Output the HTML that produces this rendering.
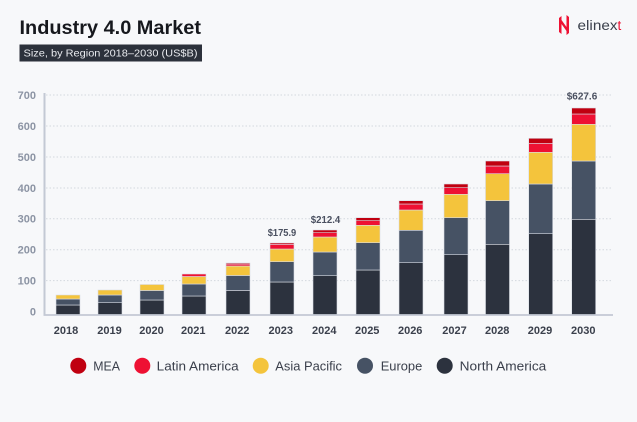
<!DOCTYPE html>
<html>
<head>
<meta charset="utf-8">
<style>
html,body{margin:0;padding:0;background:#f7f8fa;}
svg{display:block;}
text{font-family:"Liberation Sans",Arial,sans-serif;}
</style>
</head>
<body>
<svg width="637" height="422" viewBox="0 0 637 422" xmlns="http://www.w3.org/2000/svg">
<rect x="0" y="0" width="637" height="422" fill="#f7f8fa"/>

<!-- Title -->
<text x="19.5" y="34" font-size="19" font-weight="bold" fill="#16181d" textLength="181.5" lengthAdjust="spacingAndGlyphs">Industry 4.0 Market</text>
<rect x="19.5" y="44.5" width="182.5" height="17" fill="#2c313b"/>
<text x="23.5" y="56.7" font-size="10.5" fill="#e9ebef" textLength="174" lengthAdjust="spacingAndGlyphs">Size, by Region 2018–2030 (US$B)</text>

<!-- Logo -->
<g fill="#ee1133">
<polygon points="559,18 561.5,16 561.5,34 559,32"/>
<polygon points="566.5,15 569,17 569,33 566.5,35"/>
<polygon points="561.5,20 566.5,27 566.5,31 561.5,24"/>
</g>
<text x="577.5" y="30" font-size="13.5" fill="#3a3f4b" textLength="40" lengthAdjust="spacingAndGlyphs">elinex</text>
<text x="617.5" y="30" font-size="13.5" fill="#ee1133">t</text>

<!-- Gridlines -->
<g stroke="#d3d7de" stroke-width="1" stroke-dasharray="1.5,2">
<line x1="46" y1="95" x2="612" y2="95"/>
<line x1="46" y1="126" x2="612" y2="126"/>
<line x1="46" y1="157" x2="612" y2="157"/>
<line x1="46" y1="188" x2="612" y2="188"/>
<line x1="46" y1="218.7" x2="612" y2="218.7"/>
<line x1="46" y1="249.7" x2="612" y2="249.7"/>
<line x1="46" y1="280.6" x2="612" y2="280.6"/>
</g>

<!-- Y labels -->
<g font-size="11" font-weight="bold" fill="#8c94a4" text-anchor="end">
<text x="36" y="99">700</text>
<text x="36" y="130">600</text>
<text x="36" y="161">500</text>
<text x="36" y="192">400</text>
<text x="36" y="222.7">300</text>
<text x="36" y="253.7">200</text>
<text x="36" y="284.6">100</text>
<text x="36" y="315.6">0</text>
</g>

<!-- Bars -->
<g stroke="#d9dde4" stroke-width="0.6">
<!-- 2018 -->
<rect x="56" y="305" width="24" height="10" fill="#2c323e"/>
<rect x="56" y="299" width="24" height="6" fill="#465264"/>
<rect x="56" y="295" width="24" height="4" fill="#f4c43c"/>
<!-- 2019 -->
<rect x="98" y="302.7" width="24" height="12.3" fill="#2c323e"/>
<rect x="98" y="295" width="24" height="7.7" fill="#465264"/>
<rect x="98" y="290" width="24" height="5" fill="#f4c43c"/>
<!-- 2020 -->
<rect x="140" y="300" width="24" height="15" fill="#2c323e"/>
<rect x="140" y="290.5" width="24" height="9.5" fill="#465264"/>
<rect x="140" y="284.5" width="24" height="6" fill="#f4c43c"/>
<!-- 2021 -->
<rect x="182" y="296" width="24" height="19" fill="#2c323e"/>
<rect x="182" y="284" width="24" height="12" fill="#465264"/>
<rect x="182" y="276.5" width="24" height="7.5" fill="#f4c43c"/>
<rect x="182" y="274" width="24" height="2.5" fill="#ee1133"/>
<!-- 2022 -->
<rect x="226" y="290.5" width="24" height="24.5" fill="#2c323e"/>
<rect x="226" y="275.5" width="24" height="15" fill="#465264"/>
<rect x="226" y="266" width="24" height="9.5" fill="#f4c43c"/>
<rect x="226" y="264" width="24" height="2" fill="#ee1133"/>
<rect x="226" y="263" width="24" height="1" fill="#c00010"/>
<!-- 2023 -->
<rect x="270" y="282" width="24" height="33" fill="#2c323e"/>
<rect x="270" y="261.7" width="24" height="20.3" fill="#465264"/>
<rect x="270" y="249" width="24" height="12.7" fill="#f4c43c"/>
<rect x="270" y="244.3" width="24" height="4.7" fill="#ee1133"/>
<rect x="270" y="243" width="24" height="1.3" fill="#c00010"/>
<!-- 2024 -->
<rect x="313" y="275.7" width="24" height="39.3" fill="#2c323e"/>
<rect x="313" y="252" width="24" height="23.7" fill="#465264"/>
<rect x="313" y="237" width="24" height="15" fill="#f4c43c"/>
<rect x="313" y="232.7" width="24" height="4.3" fill="#ee1133"/>
<rect x="313" y="230" width="24" height="2.7" fill="#c00010"/>
<!-- 2025 -->
<rect x="356" y="270" width="24" height="45" fill="#2c323e"/>
<rect x="356" y="242.7" width="24" height="27.3" fill="#465264"/>
<rect x="356" y="225.3" width="24" height="17.4" fill="#f4c43c"/>
<rect x="356" y="220.7" width="24" height="4.6" fill="#ee1133"/>
<rect x="356" y="217.7" width="24" height="3" fill="#c00010"/>
<!-- 2026 -->
<rect x="399" y="262.7" width="24" height="52.3" fill="#2c323e"/>
<rect x="399" y="230.3" width="24" height="32.4" fill="#465264"/>
<rect x="399" y="210" width="24" height="20.3" fill="#f4c43c"/>
<rect x="399" y="204" width="24" height="6" fill="#ee1133"/>
<rect x="399" y="200.7" width="24" height="3.3" fill="#c00010"/>
<!-- 2027 -->
<rect x="444" y="254.7" width="24" height="60.3" fill="#2c323e"/>
<rect x="444" y="217.7" width="24" height="37" fill="#465264"/>
<rect x="444" y="194.3" width="24" height="23.4" fill="#f4c43c"/>
<rect x="444" y="187.7" width="24" height="6.6" fill="#ee1133"/>
<rect x="444" y="184" width="24" height="3.7" fill="#c00010"/>
<!-- 2028 -->
<rect x="485.5" y="244.3" width="24" height="70.7" fill="#2c323e"/>
<rect x="485.5" y="200.7" width="24" height="43.6" fill="#465264"/>
<rect x="485.5" y="173.7" width="24" height="27" fill="#f4c43c"/>
<rect x="485.5" y="166" width="24" height="7.7" fill="#ee1133"/>
<rect x="485.5" y="161" width="24" height="5" fill="#c00010"/>
<!-- 2029 -->
<rect x="528.7" y="233.7" width="24" height="81.3" fill="#2c323e"/>
<rect x="528.7" y="184" width="24" height="49.7" fill="#465264"/>
<rect x="528.7" y="152.3" width="24" height="31.7" fill="#f4c43c"/>
<rect x="528.7" y="143.3" width="24" height="9" fill="#ee1133"/>
<rect x="528.7" y="138.3" width="24" height="5" fill="#c00010"/>
<!-- 2030 -->
<rect x="571.7" y="219.3" width="24" height="95.7" fill="#2c323e"/>
<rect x="571.7" y="161" width="24" height="58.3" fill="#465264"/>
<rect x="571.7" y="124.3" width="24" height="36.7" fill="#f4c43c"/>
<rect x="571.7" y="114" width="24" height="10.3" fill="#ee1133"/>
<rect x="571.7" y="108" width="24" height="6" fill="#c00010"/>
</g>

<!-- Axes -->
<line x1="44.5" y1="93" x2="44.5" y2="315.5" stroke="#c3c9d4" stroke-width="2"/>
<line x1="43.5" y1="315" x2="613" y2="315" stroke="#c3c9d4" stroke-width="1.8"/>

<!-- Value labels -->
<g font-size="10.5" font-weight="bold" fill="#4a5060" text-anchor="middle">
<text x="282" y="236" textLength="28.5" lengthAdjust="spacingAndGlyphs">$175.9</text>
<text x="325.5" y="223" textLength="29.5" lengthAdjust="spacingAndGlyphs">$212.4</text>
<text x="582" y="99.5" textLength="30.5" lengthAdjust="spacingAndGlyphs">$627.6</text>
</g>

<!-- X labels -->
<g font-size="11" font-weight="bold" fill="#3b404c" text-anchor="middle">
<text x="66" y="334">2018</text>
<text x="109.5" y="334">2019</text>
<text x="151.5" y="334">2020</text>
<text x="193.3" y="334">2021</text>
<text x="237.2" y="334">2022</text>
<text x="280.8" y="334">2023</text>
<text x="324.3" y="334">2024</text>
<text x="367.2" y="334">2025</text>
<text x="410.2" y="334">2026</text>
<text x="454.5" y="334">2027</text>
<text x="497.2" y="334">2028</text>
<text x="540" y="334">2029</text>
<text x="583.3" y="334">2030</text>
</g>

<!-- Legend -->
<circle cx="78.3" cy="365.7" r="8" fill="#c00010"/>
<circle cx="142.3" cy="365.7" r="8" fill="#ee1133"/>
<circle cx="260.7" cy="365.7" r="8" fill="#f4c43c"/>
<circle cx="365" cy="365.7" r="8" fill="#465264"/>
<circle cx="444.7" cy="365.7" r="8" fill="#2c323e"/>
<g font-size="13" fill="#3a3f4b">
<text x="93.3" y="370.5" textLength="26.7" lengthAdjust="spacingAndGlyphs">MEA</text>
<text x="156.7" y="370.5" textLength="82" lengthAdjust="spacingAndGlyphs">Latin America</text>
<text x="275.3" y="370.5" textLength="66.7" lengthAdjust="spacingAndGlyphs">Asia Pacific</text>
<text x="380.7" y="370.5" textLength="41.6" lengthAdjust="spacingAndGlyphs">Europe</text>
<text x="459.7" y="370.5" textLength="86.6" lengthAdjust="spacingAndGlyphs">North America</text>
</g>
</svg>
</body>
</html>
